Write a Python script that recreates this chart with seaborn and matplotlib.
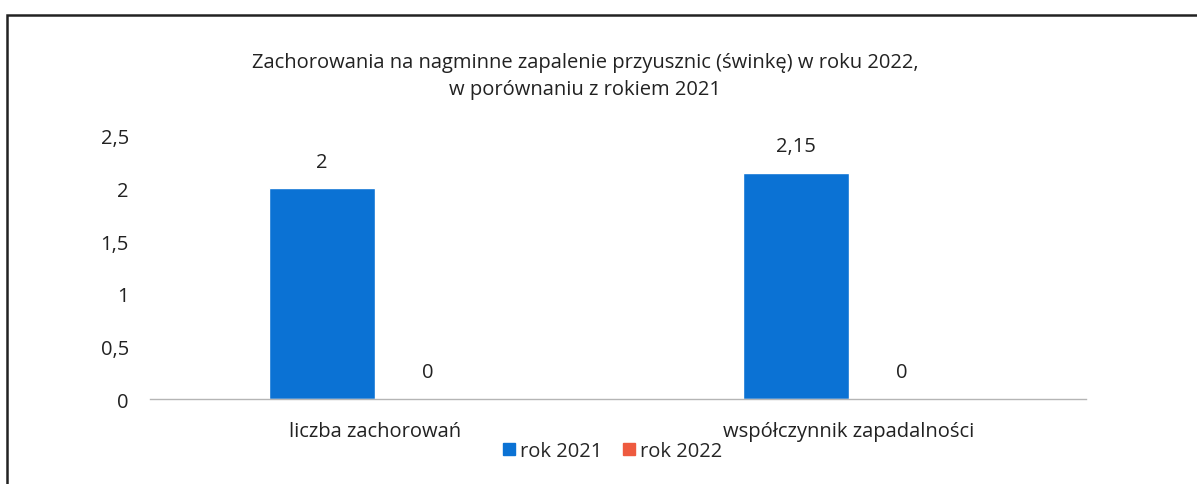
import pandas as pd
import matplotlib.pyplot as plt
import seaborn as sns
from matplotlib.patches import Rectangle

categories = ["liczba zachorowań", "współczynnik zapadalności"]
series = ["rok 2021", "rok 2022"]
values_2021 = [2, 2.15]
values_2022 = [0, 0]
value_labels_2021 = ["2", "2,15"]
value_labels_2022 = ["0", "0"]
y_ticks = [0, 0.5, 1, 1.5, 2, 2.5]
y_tick_labels = ["0", "0,5", "1", "1,5", "2", "2,5"]

df = pd.DataFrame({
    "kategoria": categories * 2,
    "rok": [series[0]] * 2 + [series[1]] * 2,
    "wartosc": values_2021 + values_2022,
})

sns.set_style("white")
plt.rcParams["font.family"] = ["Open Sans", "DejaVu Sans"]

fig = plt.figure(figsize=(11.97, 4.85), dpi=100)
ax = fig.add_axes([0.125, 0.175, 0.782, 0.543])

palette = {"rok 2021": "#0b72d4", "rok 2022": "#ee5a3f"}
sns.barplot(data=df, x="kategoria", y="wartosc", hue="rok", palette=palette,
            width=0.445, saturation=1, ax=ax, legend=False)

labels = [value_labels_2021, value_labels_2022]
for cont, labs in zip(ax.containers, labels):
    ax.bar_label(cont, labels=labs, padding=12, fontsize=14.5, color="#222222")

ax.set_xlim(-0.475, 1.5)
ax.set_ylim(0, 2.5)
ax.set_yticks(y_ticks)
ax.set_yticklabels(y_tick_labels, fontsize=14.5, color="#222222")
ax.tick_params(axis="x", labelsize=14.5, colors="#222222", pad=16, length=0)
ax.tick_params(axis="y", length=0, pad=15)
ax.set_xlabel("")
ax.set_ylabel("")
for s in ["top", "right", "left"]:
    ax.spines[s].set_visible(False)
ax.spines["bottom"].set_color("#b5b5b5")
ax.spines["bottom"].set_linewidth(1)

fig.text(0.489, 0.842, "Zachorowania na nagminne zapalenie przyusznic (świnkę) w roku 2022,\nw porównaniu z rokiem 2021",
         ha="center", va="center", fontsize=14.5, color="#222222", linespacing=1.45)

handles = [Rectangle((0, 0), 1, 1, color=palette[s]) for s in series]
fig.legend(handles, series, loc="center", bbox_to_anchor=(0.512, 0.068), ncol=2,
           frameon=False, fontsize=14.5, handlelength=0.6, handleheight=0.6,
           handletextpad=0.25, columnspacing=1.0)

fig.patches.append(Rectangle((0.006, -0.1), 1.1, 1.068, transform=fig.transFigure,
                             fill=False, edgecolor="#222222", linewidth=1.8))

fig.savefig("out.png", dpi=100)
